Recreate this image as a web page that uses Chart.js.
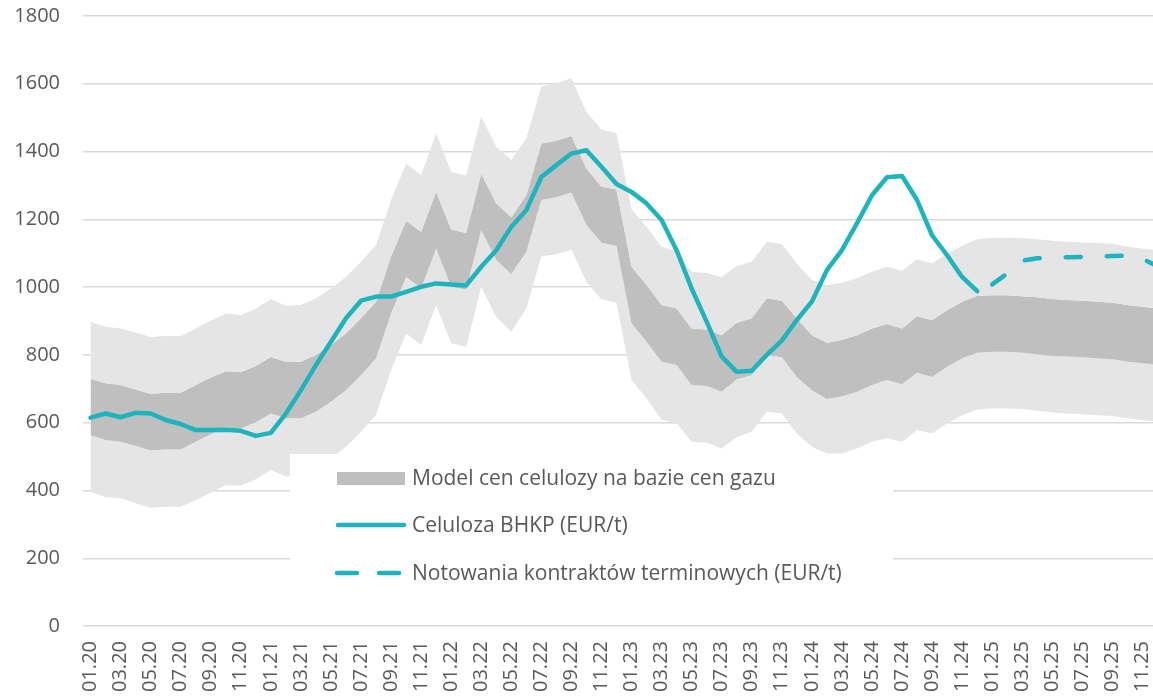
<!DOCTYPE html>
<html>
<head>
<meta charset="utf-8">
<script src="https://cdn.jsdelivr.net/npm/chart.js@4.4.1/dist/chart.umd.min.js"></script>
<style>
  html, body { margin: 0; padding: 0; background: #fff; overflow: hidden; }
  #wrap { position: absolute; left: 0; top: 0; width: 1175px; height: 720px; }
</style>
</head>
<body>
<div id="wrap"><canvas id="chart"></canvas></div>
<script>
// --- DATA (monthly, 01.20 - 12.25) ---
const months = [
  '01.20','02.20','03.20','04.20','05.20','06.20','07.20','08.20','09.20','10.20','11.20','12.20',
  '01.21','02.21','03.21','04.21','05.21','06.21','07.21','08.21','09.21','10.21','11.21','12.21',
  '01.22','02.22','03.22','04.22','05.22','06.22','07.22','08.22','09.22','10.22','11.22','12.22',
  '01.23','02.23','03.23','04.23','05.23','06.23','07.23','08.23','09.23','10.23','11.23','12.23',
  '01.24','02.24','03.24','04.24','05.24','06.24','07.24','08.24','09.24','10.24','11.24','12.24',
  '01.25','02.25','03.25','04.25','05.25','06.25','07.25','08.25','09.25','10.25','11.25','12.25'
];

// model band edges (EUR/t)
const outerTop = [
  898, 883, 878, 866, 853, 856, 856, 878, 901, 922, 918, 936,
  965, 944, 947, 967, 996, 1030, 1075, 1124, 1257, 1365, 1330, 1453,
  1340, 1329, 1503, 1414, 1375, 1439, 1593, 1601, 1616, 1517, 1465, 1455,
  1230, 1178, 1119, 1104, 1045, 1042, 1030, 1062, 1075, 1134, 1127, 1070,
  1021, 1006, 1013, 1026, 1045, 1060, 1048, 1082, 1070, 1099, 1122, 1141,
  1146, 1146, 1144, 1141, 1137, 1134, 1132, 1130, 1128, 1119, 1114, 1109
];
const innerTop = [
  729, 716, 711, 698, 685, 688, 688, 711, 733, 752, 749, 767,
  794, 780, 780, 800, 829, 863, 908, 957, 1090, 1195, 1163, 1281,
  1170, 1160, 1335, 1247, 1206, 1271, 1424, 1432, 1446, 1350, 1296, 1288,
  1060, 1006, 947, 937, 878, 875, 858, 895, 908, 967, 960, 908,
  858, 836, 844, 858, 878, 891, 878, 914, 903, 932, 957, 974,
  976, 976, 973, 970, 965, 962, 960, 957, 954, 947, 942, 937
];
const innerBottom = [
  563, 549, 544, 531, 518, 521, 521, 544, 566, 586, 583, 601,
  627, 613, 613, 632, 662, 696, 740, 790, 922, 1030, 996, 1114,
  1001, 993, 1168, 1080, 1038, 1104, 1257, 1265, 1279, 1183, 1131, 1121,
  893, 839, 780, 770, 711, 708, 691, 728, 740, 800, 793, 735,
  696, 670, 677, 691, 711, 726, 713, 747, 735, 765, 790, 806,
  809, 809, 806, 802, 797, 795, 793, 790, 787, 780, 775, 770
];
const outerBottom = [
  396, 381, 377, 362, 349, 352, 352, 372, 393, 416, 414, 433,
  460, 441, 444, 465, 495, 529, 573, 623, 755, 863, 829, 947,
  834, 824, 1001, 912, 868, 937, 1090, 1097, 1111, 1016, 964, 954,
  726, 672, 608, 598, 544, 541, 524, 558, 573, 632, 627, 568,
  529, 509, 509, 524, 544, 554, 544, 578, 568, 598, 622, 639,
  642, 642, 640, 635, 630, 627, 625, 622, 620, 613, 608, 603
];

// BHKP pulp price, actual
const celuloza = [
  615, 627, 616, 629, 627, 608, 596, 578, 578, 579, 576, 561,
  570, 627, 696, 770, 839, 908, 960, 972, 972, 986, 1001, 1011,
  1008, 1005, 1060, 1109, 1178, 1227, 1325, 1360, 1394, 1404, 1355, 1304,
  1281, 1247, 1198, 1109, 996, 898, 795, 750, 753, 800, 842, 903,
  957, 1050, 1109, 1188, 1271, 1324, 1328, 1257, 1153, 1094, 1030, 988,
  null, null, null, null, null, null, null, null, null, null, null, null
];

// futures quotes
const kontrakty = [
  null, null, null, null, null, null, null, null, null, null, null, null,
  null, null, null, null, null, null, null, null, null, null, null, null,
  null, null, null, null, null, null, null, null, null, null, null, null,
  null, null, null, null, null, null, null, null, null, null, null, null,
  null, null, null, null, null, null, null, null, null, null, null, null,
  1008, 1040, 1078, 1085, 1086, 1088, 1089, 1090, 1092, 1093, 1083, 1062
];

const yTicks = [0, 200, 400, 600, 800, 1000, 1200, 1400, 1600, 1800];

const legendLabels = [
  'Model cen celulozy na bazie cen gazu',
  'Celuloza BHKP (EUR/t)',
  'Notowania kontraktów terminowych (EUR/t)'
];

// --- STYLE ---
const TEAL = '#1DB4BE';
const LIGHT = '#E5E5E5';
const DARK = '#BFBFBF';
const GRID = '#D9D9D9';
const TEXT = '#595959';
const FONT = '"Open Sans", sans-serif';

const noPad = s => { s.paddingTop = 0; s.paddingBottom = 0; s.paddingLeft = 0; s.paddingRight = 0; };

// legend drawn inside the plot on a white box
const boxLegend = {
  id: 'boxLegend',
  afterDatasetsDraw(chart) {
    const ctx = chart.ctx;
    ctx.save();
    ctx.fillStyle = '#fff';
    ctx.fillRect(290, 454, 603, 146);

    const x0 = 337, x1 = 405, tx = 412;
    // band swatch
    ctx.fillStyle = DARK;
    ctx.fillRect(x0, 472, x1 - x0, 13);
    // solid line
    ctx.strokeStyle = TEAL;
    ctx.lineWidth = 4.5;
    ctx.lineCap = 'round';
    ctx.beginPath(); ctx.moveTo(x0 + 1, 525); ctx.lineTo(x1 - 1, 525); ctx.stroke();
    // dashed line
    ctx.setLineDash([20, 22]);
    ctx.beginPath(); ctx.moveTo(x0, 573); ctx.lineTo(x1, 573); ctx.stroke();
    ctx.setLineDash([]);

    ctx.fillStyle = TEXT;
    ctx.font = '21px ' + FONT;
    ctx.textBaseline = 'alphabetic';
    ctx.fillText(legendLabels[0], tx, 485);
    ctx.fillText(legendLabels[1], tx, 532);
    ctx.fillText(legendLabels[2], tx, 580);
    ctx.restore();
  }
};

new Chart(document.getElementById('chart'), {
  type: 'line',
  data: {
    labels: months,
    datasets: [
      { label: legendLabels[1], data: celuloza, borderColor: TEAL, borderWidth: 4.5,
        borderCapStyle: 'round', borderJoinStyle: 'round', pointRadius: 0, fill: false, tension: 0 },
      { label: legendLabels[2], data: kontrakty, borderColor: TEAL, borderWidth: 4.5,
        borderDash: [15, 26], borderCapStyle: 'round', borderJoinStyle: 'round',
        pointRadius: 0, fill: false, tension: 0 },
      { label: 'outerTop', data: outerTop, borderWidth: 0, pointRadius: 0,
        backgroundColor: LIGHT, fill: '+1', tension: 0 },
      { label: legendLabels[0], data: innerTop, borderWidth: 0, pointRadius: 0,
        backgroundColor: DARK, fill: '+1', tension: 0 },
      { label: 'innerBottom', data: innerBottom, borderWidth: 0, pointRadius: 0,
        backgroundColor: LIGHT, fill: '+1', tension: 0 },
      { label: 'outerBottom', data: outerBottom, borderWidth: 0, pointRadius: 0,
        backgroundColor: LIGHT, fill: false, tension: 0 }
    ]
  },
  options: {
    responsive: true,
    maintainAspectRatio: false,
    animation: false,
    layout: { padding: { top: 16, right: 10, left: 0, bottom: 0 } },
    plugins: { legend: { display: false }, tooltip: { enabled: false } },
    scales: {
      x: {
        offset: true,
        grid: { display: false, drawTicks: false },
        border: { display: false },
        ticks: {
          autoSkip: false, maxRotation: 90, minRotation: 90, padding: 15,
          color: TEXT, font: { family: FONT, size: 20 },
          callback: (v, i) => (i % 2 === 0 ? months[i] : '')
        },
        afterFit: s => { s.height = 94; noPad(s); }
      },
      y: {
        min: 0, max: 1800,
        afterBuildTicks: s => { s.ticks = yTicks.map(v => ({ value: v })); },
        grid: { color: GRID, lineWidth: 1.4, drawTicks: false },
        border: { display: false },
        ticks: { padding: 23, color: TEXT, font: { family: FONT, size: 20 },
          callback: v => String(v) },
        afterFit: s => { s.width = 83; noPad(s); }
      }
    }
  },
  plugins: [boxLegend]
});
</script>
</body>
</html>
